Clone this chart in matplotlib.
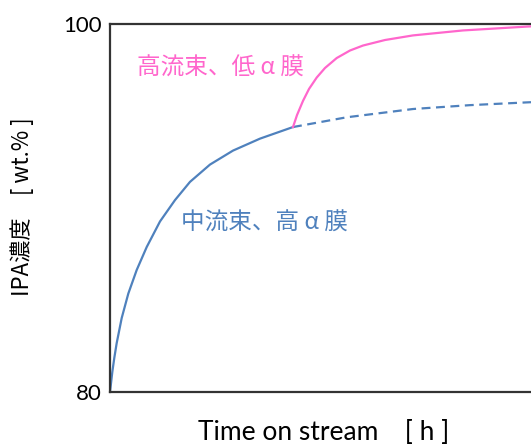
import numpy as np
import matplotlib.pyplot as plt

plt.rcParams['font.family'] = ['Lato', 'Noto Sans CJK JP', 'DejaVu Sans']
cjk = ['Noto Sans CJK JP', 'DejaVu Sans']

# ── data (x in arbitrary hours, y in wt.%) ─────────────────────────────────
# medium flux / high alpha membrane (solid part)
base_t = [0.0, 0.55, 1.02, 1.59, 2.78, 4.35, 6.34, 8.72, 11.88, 15.44,
          19.00, 23.75, 29.22, 35.63, 43.47]
base_y = [80.00, 81.09, 81.85, 82.66, 84.02, 85.35, 86.63, 87.88, 89.27,
          90.43, 91.42, 92.36, 93.12, 93.77, 94.40]

# same membrane continued (dashed)
cont_t = [43.47, 56.22, 71.97, 85.51, 99.05, 100.0]
cont_y = [94.40, 94.93, 95.38, 95.59, 95.74, 95.75]

# high flux / low alpha membrane after switch
high_t = [43.47, 44.42, 45.84, 47.27, 49.10, 51.07, 53.85, 57.01, 60.10,
          65.32, 71.97, 83.85, 99.05, 100.0]
high_y = [94.40, 95.05, 95.82, 96.47, 97.09, 97.61, 98.15, 98.56, 98.83,
          99.13, 99.38, 99.65, 99.86, 99.87]

blue = "#4F81BD"
pink = "#FF66CC"

fig = plt.figure(figsize=(5.31, 4.46), dpi=100)
ax = fig.add_axes([110/531, 54/446, 1 - 110/531, 368/446])

ax.plot(base_t, base_y, color=blue, lw=1.6, solid_joinstyle="round")
ax.plot(cont_t, cont_y, color=blue, lw=1.6, ls=(0, (4, 2.5)))
ax.plot(high_t, high_y, color=pink, lw=1.6, solid_joinstyle="round")

ax.set_xlim(0, 100)
ax.set_ylim(80, 100)
ax.set_xticks([])
ax.set_yticks([80, 100])
ax.set_yticklabels(["80", "100"], fontsize=16)
ax.tick_params(axis="y", length=0, pad=6)

for s in ["left", "bottom", "top"]:
    ax.spines[s].set_color("#333333")
    ax.spines[s].set_linewidth(1.6)
ax.spines["right"].set_visible(False)

ax.text(6.4, 97.6, "高流束、低 α 膜", color=pink, fontsize=17,
        ha="left", va="center", family=cjk)
ax.text(16.9, 89.2, "中流束、高 α 膜", color=blue, fontsize=17,
        ha="left", va="center", family=cjk)

fig.text(324/531, 1 - 432/446, "Time on stream\u3000[ h ]", fontsize=19,
         ha="center", va="center", family=['Lato', 'Noto Sans CJK JP'])
fig.text(22/531, 1 - 207/446, "IPA濃度\u3000[ wt.% ]", fontsize=16,
         ha="center", va="center", rotation=90, family=cjk)

fig.savefig("out.png", dpi=100)
